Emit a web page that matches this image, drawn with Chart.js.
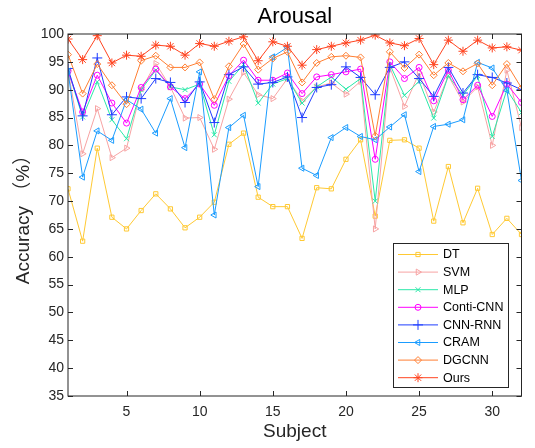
<!DOCTYPE html>
<html>
<head>
<meta charset="utf-8">
<script src="https://cdn.jsdelivr.net/npm/chart.js@4.4.0/dist/chart.umd.min.js"></script>
<style>
  body { margin: 0; background: #fff; }
  #wrap { width: 535px; height: 448px; }
</style>
</head>
<body>
<div id="wrap"><canvas id="myChart" width="535" height="448"></canvas></div>
<script>
// subjects 1..32
var subjects = [];
for (var s = 1; s <= 32; s++) subjects.push(s);
var xTicks = [5, 10, 15, 20, 25, 30];
var yTicks = [35, 40, 45, 50, 55, 60, 65, 70, 75, 80, 85, 90, 95, 100];

var seriesNames = ['DT', 'SVM', 'MLP', 'Conti-CNN', 'CNN-RNN', 'CRAM', 'DGCNN', 'Ours'];

var dtVals = [72.2, 62.8, 79.5, 67.1, 65.0, 68.3, 71.3, 68.6, 65.2, 67.1, 69.8, 80.2, 82.2, 70.7, 69.0, 69.0,
              63.3, 72.4, 72.2, 77.5, 81.0, 67.3, 80.9, 81.0, 79.5, 66.4, 76.2, 66.1, 72.3, 64.0, 66.9, 64.0];
var svmVals = [93.5, 78.5, 86.6, 77.8, 79.5, 90.0, 94.7, 90.5, 84.9, 85.0, 79.3, 88.3, 93.1, 89.1, 88.4, 92.0,
               88.0, 90.5, 91.2, 89.2, 91.5, 65.0, 94.0, 87.0, 93.0, 86.0, 92.5, 87.8, 90.5, 80.0, 93.5, 83.2];
var mlpVals = [93.5, 85.1, 91.4, 84.6, 81.2, 90.0, 93.5, 90.5, 90.0, 91.0, 81.9, 91.5, 94.5, 87.6, 91.0, 92.0,
               87.6, 90.5, 92.3, 90.1, 92.0, 70.0, 94.5, 89.0, 91.5, 84.9, 92.5, 89.0, 92.5, 81.6, 90.0, 85.9];
var contiVals = [93.3, 86.0, 92.6, 87.6, 84.0, 90.4, 93.7, 90.5, 88.4, 91.0, 87.2, 92.5, 95.3, 91.7, 91.7, 93.0,
                 89.3, 92.3, 92.7, 93.2, 93.7, 77.5, 95.0, 92.0, 94.0, 88.0, 93.5, 88.2, 90.8, 85.2, 91.0, 87.7];
var cnnRnnVals = [93.8, 85.3, 95.7, 85.5, 88.7, 88.4, 92.0, 91.3, 87.7, 91.4, 84.1, 92.7, 94.1, 91.0, 91.3, 92.3,
                  85.0, 90.4, 90.9, 94.1, 92.2, 89.1, 94.0, 95.0, 92.0, 88.8, 94.0, 89.4, 92.7, 92.2, 91.2, 90.0];
var cramVals = [93.3, 74.3, 82.6, 80.9, 88.2, 86.5, 82.2, 88.4, 79.6, 93.2, 67.5, 83.2, 85.4, 72.6, 95.9, 97.6,
                75.9, 74.6, 81.4, 83.2, 81.6, 81.0, 83.3, 85.5, 75.3, 83.4, 83.8, 84.6, 94.9, 93.9, 89.9, 73.7];
var dgcnnVals = [96.3, 89.3, 94.6, 90.8, 87.4, 95.2, 96.1, 94.0, 94.0, 94.9, 88.3, 94.2, 98.2, 93.6, 95.6, 96.8,
                 91.3, 94.8, 95.9, 96.1, 95.8, 81.7, 96.8, 93.9, 96.3, 92.6, 94.8, 93.3, 94.7, 90.8, 94.6, 90.3];
var oursVals = [99.1, 95.4, 99.7, 94.8, 96.2, 96.0, 98.0, 97.8, 96.2, 98.3, 97.8, 98.7, 99.5, 95.2, 98.6, 97.8,
                94.4, 97.2, 97.8, 98.4, 98.9, 99.8, 98.4, 97.9, 99.2, 94.5, 98.9, 96.9, 98.9, 97.5, 97.7, 97.1];

var allVals = [dtVals, svmVals, mlpVals, contiVals, cnnRnnVals, cramVals, dgcnnVals, oursVals];
var colors = ['#FFC933', '#F7A3A3', '#2BE8A9', '#FF00FF', '#1F3DFF', '#1A9CFF', '#FF7F33', '#FF4420'];
var styles = ['rect', 'triangle', 'crossRot', 'circle', 'cross', 'triangle', 'rectRot', 'star'];
var rotations = [0, 90, 0, 0, 0, -90, 0, 0];
var radii = [3, 3.5, 3.5, 3, 5, 3.5, 3.5, 4.5];

var FONT = '"Liberation Sans", Arial, "Noto Sans CJK SC", sans-serif';
var AX = '#262626';

var datasets = seriesNames.map(function(name, i) {
	return {
		label: name,
		data: subjects.map(function(x, j) { return { x: x, y: allVals[i][j] }; }),
		borderColor: colors[i],
		backgroundColor: 'transparent',
		borderWidth: 1,
		pointStyle: styles[i],
		pointRotation: rotations[i],
		pointRadius: radii[i],
		pointBorderWidth: 1,
		pointBackgroundColor: 'transparent',
		pointBorderColor: colors[i],
		tension: 0,
		order: 7 - i
	};
});

// frame, inward ticks, title and legend like matlab
var matlabLook = {
	id: 'matlabLook',
	afterDraw: function(chart) {
		var ctx = chart.ctx, a = chart.chartArea;
		var xs = chart.scales.x, ys = chart.scales.y;
		ctx.save();
		ctx.strokeStyle = AX;
		ctx.lineWidth = 1;
		ctx.strokeRect(a.left, a.top, a.right - a.left, a.bottom - a.top);
		ctx.beginPath();
		xTicks.forEach(function(v) {
			var px = Math.round(xs.getPixelForValue(v)) + 0.5;
			ctx.moveTo(px, a.bottom); ctx.lineTo(px, a.bottom - 5);
			ctx.moveTo(px, a.top); ctx.lineTo(px, a.top + 5);
		});
		yTicks.forEach(function(v) {
			var py = Math.round(ys.getPixelForValue(v)) + 0.5;
			ctx.moveTo(a.left, py); ctx.lineTo(a.left + 5, py);
			ctx.moveTo(a.right, py); ctx.lineTo(a.right - 5, py);
		});
		ctx.stroke();

		// title
		ctx.fillStyle = '#000';
		ctx.font = '22px ' + FONT;
		ctx.textAlign = 'center';
		ctx.textBaseline = 'middle';
		ctx.fillText('Arousal', (a.left + a.right) / 2, 17);

		// legend box
		var lx = 393, ly = 243, lw = 115, lh = 144;
		ctx.fillStyle = '#fff';
		ctx.fillRect(lx, ly, lw, lh);
		ctx.strokeStyle = AX;
		ctx.strokeRect(lx + 0.5, ly + 0.5, lw, lh);
		ctx.font = '12.5px ' + FONT;
		ctx.textAlign = 'left';
		seriesNames.forEach(function(name, i) {
			var yy = 254.5 + i * 17.6;
			ctx.strokeStyle = colors[i];
			ctx.lineWidth = 1;
			ctx.beginPath();
			ctx.moveTo(398, yy); ctx.lineTo(438, yy);
			ctx.stroke();
			ctx.fillStyle = 'rgba(0,0,0,0)';
			Chart.helpers.drawPoint(ctx, {
				pointStyle: styles[i], rotation: rotations[i], radius: radii[i], borderWidth: 1
			}, 418, yy);
			ctx.fillStyle = '#000';
			ctx.fillText(name, 443, yy + 0.5);
		});
		ctx.restore();
	}
};

var ctx = document.getElementById('myChart').getContext('2d');
var myChart = new Chart(ctx, {
	type: 'line',
	data: { datasets: datasets },
	options: {
		responsive: false,
		animation: false,
		layout: { padding: { top: 34, right: 13.5, left: 0, bottom: 0 } },
		plugins: {
			legend: { display: false },
			title: { display: false },
			tooltip: { enabled: false }
		},
		scales: {
			x: {
				type: 'linear',
				min: 1,
				max: 32,
				border: { display: false },
				grid: { display: false, drawTicks: false },
				afterBuildTicks: function(scale) {
					scale.ticks = xTicks.map(function(v) { return { value: v }; });
				},
				afterFit: function(scale) { scale.height = 52; },
				ticks: { color: AX, font: { family: FONT, size: 14 }, padding: 8, maxRotation: 0, autoSkip: false },
				title: { display: true, text: 'Subject', color: AX, font: { family: FONT, size: 19 }, padding: { top: 0, bottom: 5 } }
			},
			y: {
				min: 35,
				max: 100,
				border: { display: false },
				grid: { display: false, drawTicks: false },
				afterBuildTicks: function(scale) {
					scale.ticks = yTicks.map(function(v) { return { value: v }; });
				},
				afterFit: function(scale) { scale.width = 68; },
				ticks: { color: AX, font: { family: FONT, size: 14 }, padding: 4, autoSkip: false },
				title: { display: true, text: 'Accuracy （%）', color: AX, font: { family: FONT, size: 19 }, padding: { top: 12, bottom: 0 } }
			}
		}
	},
	plugins: [matlabLook]
});
</script>
</body>
</html>
